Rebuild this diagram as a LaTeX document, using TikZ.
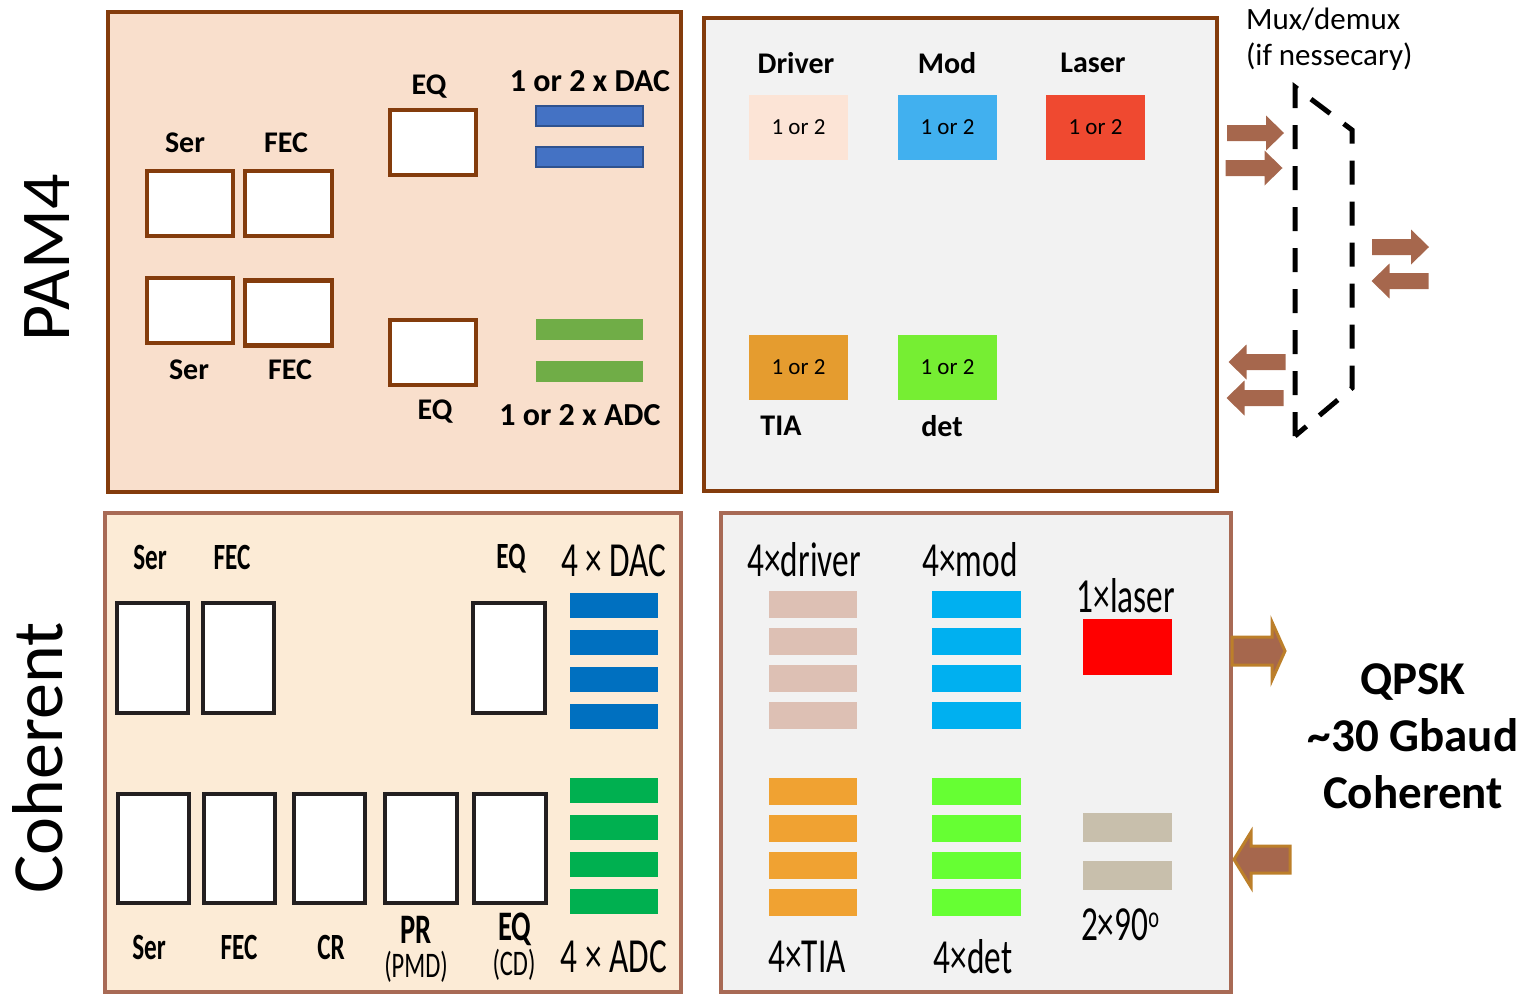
\documentclass[tikz,border=0pt]{standalone}
\usepackage{fontspec}
\setmainfont{Carlito}
\newfontfamily\cond[FakeStretch=0.68]{Carlito}
\newcommand\fsz[1]{\fontsize{#1}{#1}\selectfont}
\definecolor{brownA}{HTML}{843C0C}
\definecolor{peachA}{HTML}{F9DFCC}
\definecolor{greyP}{HTML}{F2F2F2}
\definecolor{dacblue}{HTML}{4472C4}
\definecolor{dacedge}{HTML}{2F528F}
\definecolor{adcgreen}{HTML}{70AD47}
\definecolor{drvA}{HTML}{FCE4D6}
\definecolor{modA}{HTML}{41B0EF}
\definecolor{lasA}{HTML}{EF4930}
\definecolor{tiaA}{HTML}{E59C2F}
\definecolor{detA}{HTML}{76EE33}
\definecolor{arrowc}{HTML}{A6674D}
\definecolor{goldc}{HTML}{BC7F2A}
\definecolor{cohfill}{HTML}{FCEBD6}
\definecolor{cohedge}{HTML}{A86A55}
\definecolor{boxedge}{HTML}{231F20}
\definecolor{blueC}{HTML}{0070C0}
\definecolor{greenC}{HTML}{00B050}
\definecolor{drvC}{HTML}{DDC0B4}
\definecolor{modC}{HTML}{00B0F0}
\definecolor{lasC}{HTML}{FF0000}
\definecolor{tiaC}{HTML}{F0A232}
\definecolor{detC}{HTML}{66FF33}
\definecolor{hybC}{HTML}{C8BFAC}
\begin{document}
\begin{tikzpicture}[x=1pt,y=-1pt,
  every node/.style={inner sep=0pt, outer sep=0pt},
  panelbox/.style={rectangle, draw=brownA, line width=4pt},
  cohpanel/.style={rectangle, draw=cohedge, line width=3.5pt},
  pbox/.style={rectangle, draw=brownA, line width=4.5pt, fill=white, minimum width=86pt, minimum height=65pt},
  cbox/.style={rectangle, draw=boxedge, line width=4.5pt, fill=white, minimum width=71pt, minimum height=110pt},
  obox/.style={rectangle, minimum width=99pt, minimum height=65pt, font=\fsz{23}},
  bar/.style={rectangle, minimum width=88pt, minimum height=26pt},
  lblA/.style={font=\bfseries\fsz{30}},
  lblC/.style={font=\cond\bfseries\fsz{37}},
  lblCb/.style={font=\cond\bfseries\fsz{42}},
  lblCs/.style={font=\cond\fsz{36}},
  lblD/.style={font=\cond\fsz{49}},
  rarr/.pic={\fill[arrowc] (-28.5,-8) -- (10.5,-8) -- (10.5,-17.5) -- (28.5,0) -- (10.5,17.5) -- (10.5,8) -- (-28.5,8) -- cycle;},
  larr/.pic={\fill[arrowc] (28.5,-8) -- (-10.5,-8) -- (-10.5,-17.5) -- (-28.5,0) -- (-10.5,17.5) -- (-10.5,8) -- (28.5,8) -- cycle;}
]
\useasboundingbox (0,0) rectangle (1524,994);

% ---------- side titles ----------
\node[rotate=90, font=\fsz{70}] (tpam) at (47,258) {PAM4};
\node[rotate=90, font=\fsz{72}] (tcoh) at (38,758) {Coherent};

% ---------- PAM4 DSP panel ----------
\node[panelbox, fill=peachA, minimum width=573pt, minimum height=480pt] (pamdsp) at (394.5,252) {};
\node[pbox] (ser1) at (190,203.5) {};
\node[pbox, minimum width=87pt] (fec1) at (288.5,203.5) {};
\node[pbox] (ser2) at (190,310.5) {};
\node[pbox, minimum width=87pt] (fec2) at (288.5,313) {};
\node[pbox] (eq1) at (433,142.5) {};
\node[pbox] (eq2) at (433,352.5) {};
\node[rectangle, fill=dacblue, draw=dacedge, line width=2pt, minimum width=107pt, minimum height=20pt] (dac1) at (589.5,116) {};
\node[rectangle, fill=dacblue, draw=dacedge, line width=2pt, minimum width=107pt, minimum height=20pt] (dac2) at (589.5,157) {};
\node[rectangle, fill=adcgreen, minimum width=107pt, minimum height=21pt] (adc1) at (589.5,329) {};
\node[rectangle, fill=adcgreen, minimum width=107pt, minimum height=21pt] (adc2) at (589.5,371) {};
\node[lblA] (lser1) at (185,143) {Ser};
\node[lblA] (lfec1) at (286,143) {FEC};
\node[lblA] (leq1) at (429,87) {EQ};
\node[lblA, font=\bfseries\fsz{32}] (ldac) at (590,81) {1 or 2 x DAC};
\node[lblA] (lser2) at (189,370) {Ser};
\node[lblA] (lfec2) at (290,370) {FEC};
\node[lblA] (leq2) at (435,412) {EQ};
\node[lblA, font=\bfseries\fsz{32}] (ladc) at (580,415) {1 or 2 x ADC};

% ---------- PAM4 optics panel ----------
\node[panelbox, fill=greyP, minimum width=513pt, minimum height=473pt] (pamopt) at (960.5,254.5) {};
\node[obox, fill=drvA] (drv) at (798.5,127.5) {1 or 2};
\node[obox, fill=modA] (mod) at (947.5,127.5) {1 or 2};
\node[obox, fill=lasA] (las) at (1095.5,127.5) {1 or 2};
\node[obox, fill=tiaA] (tia) at (798.5,367.5) {1 or 2};
\node[obox, fill=detA] (det) at (947.5,367.5) {1 or 2};
\node[lblA] (ldrv) at (796,63) {Driver};
\node[lblA] (lmod) at (947,63) {Mod};
\node[lblA] (llas) at (1093,63) {Laser};
\node[lblA] (ltia) at (781,426) {TIA};
\node[lblA] (ldet) at (942,426) {det};

% ---------- mux/demux ----------
\node[anchor=west, font=\fsz{31}] (mux1) at (1246,19) {Mux/demux};
\node[anchor=west, font=\fsz{31}] (mux2) at (1246,57) {(if nessecary)};
\coordinate (m1) at (1295,436);
\coordinate (m2) at (1295,87);
\coordinate (m3) at (1352,130);
\coordinate (m4) at (1352,388);
\draw[line width=5pt, dash pattern=on 24pt off 17pt] (m1) -- (m2) -- (m3) -- (m4) -- cycle;
\pic at (1255.5,133) {rarr};
\pic at (1254,168) {rarr};
\pic at (1400.5,247) {rarr};
\pic at (1400,281) {larr};
\pic at (1257,362) {larr};
\pic at (1255,398) {larr};

% ---------- Coherent DSP panel ----------
\node[cohpanel, fill=cohfill, minimum width=576pt, minimum height=479pt] (cohdsp) at (393,752.5) {};
\node[cbox] (cser1) at (152.5,658) {};
\node[cbox] (cfec1) at (238.5,658) {};
\node[cbox, minimum width=72pt] (ceq1) at (509,658) {};
\node[cbox, minimum height=109pt] (cser2) at (153.5,848.5) {};
\node[cbox, minimum height=109pt] (cfec2) at (239.5,848.5) {};
\node[cbox, minimum height=109pt] (ccr) at (329.5,848.5) {};
\node[cbox, minimum height=109pt, minimum width=72pt] (cpr) at (421,848.5) {};
\node[cbox, minimum height=109pt, minimum width=72pt] (ceq2) at (510,848.5) {};
\foreach \y [count=\i] in {605.5,642.5,679.5,716.5}
  \node[bar, fill=blueC, minimum height=25pt] (cdac\i) at (614,\y) {};
\foreach \y [count=\i] in {790.5,827.5,864.5,901.5}
  \node[bar, fill=greenC, minimum height=25pt] (cadc\i) at (614,\y) {};
\node[lblC] (lcser1) at (150,557) {Ser};
\node[lblC] (lcfec1) at (232,557) {FEC};
\node[lblC] (lceq1) at (511,559) {EQ};
\node[lblD] (lcdac) at (614,561) {4 × DAC};
\node[lblC] (lcser2) at (149,947) {Ser};
\node[lblC] (lcfec2) at (239,947) {FEC};
\node[lblC] (lccr) at (331,947) {CR};
\node[lblCb] (lcpr) at (416,930) {PR};
\node[lblCs] (lcpmd) at (416,967) {(PMD)};
\node[lblCb] (lceq2) at (515,929) {EQ};
\node[lblCs] (lccd) at (514,965) {(CD)};
\node[lblD] (lcadc) at (614,957) {4 × ADC};

% ---------- Coherent optics panel ----------
\node[cohpanel, fill=greyP, minimum width=510pt, minimum height=479pt] (cohopt) at (976,752.5) {};
\foreach \y [count=\i] in {604.5,641.5,678.5,715.5} {
  \node[bar, fill=drvC, minimum height=27pt] (cdrv\i) at (813,\y) {};
  \node[bar, fill=modC, minimum height=27pt, minimum width=89pt] (cmod\i) at (976.5,\y) {};
}
\foreach \y [count=\i] in {791.5,828.5,865.5,902.5} {
  \node[bar, fill=tiaC, minimum height=27pt] (ctia\i) at (813,\y) {};
  \node[bar, fill=detC, minimum height=27pt, minimum width=89pt] (cdet\i) at (976.5,\y) {};
}
\node[rectangle, fill=lasC, minimum width=89pt, minimum height=56pt] (clas) at (1127.5,647) {};
\node[rectangle, fill=hybC, minimum width=89pt, minimum height=29pt] (chyb1) at (1127.5,827.5) {};
\node[rectangle, fill=hybC, minimum width=89pt, minimum height=29pt] (chyb2) at (1127.5,875.5) {};
\node[lblD] (lcdrv) at (804,560) {4×driver};
\node[lblD] (lcmod) at (970,560) {4×mod};
\node[lblD] (lclas) at (1126,596) {1×laser};
\node[lblD] (lctia) at (807,957) {4×TIA};
\node[lblD] (lcdet) at (973,957) {4×det};
\node[lblD] (lchyb) at (1120,925) {2×90\raisebox{0.55ex}{\fsz{30}o}};

% ---------- coherent arrows ----------
\filldraw[fill=arrowc, draw=goldc, line width=3pt] (1232,637) -- (1272,637) -- (1272,622) -- (1285,651) -- (1272,680) -- (1272,665) -- (1232,665) -- cycle;
\filldraw[fill=arrowc, draw=goldc, line width=3pt] (1290,846) -- (1251,846) -- (1251,832) -- (1234,859.5) -- (1251,887) -- (1251,873) -- (1290,873) -- cycle;

% ---------- QPSK text ----------
\node[align=center, font=\bfseries\fontsize{47}{57}\selectfont] (qpsk) at (1413,736) {QPSK\\\textasciitilde30 Gbaud\\Coherent};
\end{tikzpicture}
\end{document}
